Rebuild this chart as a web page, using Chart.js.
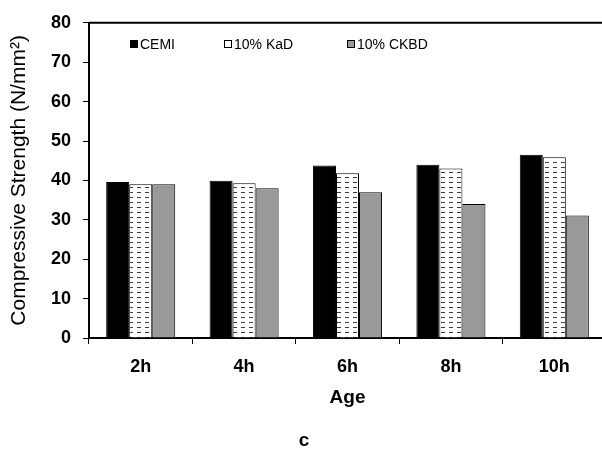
<!DOCTYPE html>
<html>
<head>
<meta charset="utf-8">
<script src="https://cdn.jsdelivr.net/npm/chart.js@4"></script>
<style>
  body { margin: 0; background: #fff; }
  #wrap { width: 602px; height: 450px; overflow: hidden; }
</style>
</head>
<body>
<div id="wrap"><canvas id="strengthChart" width="620" height="450"></canvas></div>
<script>
// Age of the mix at test
const ages = ['2h', '4h', '6h', '8h', '10h'];

// Compressive strength, N/mm²
const cemi = [39.6, 39.9, 43.8, 44.0, 46.5];
const kad = [39.0, 39.3, 41.8, 43.0, 45.9];
const ckbd = [39.0, 38.0, 37.0, 34.0, 31.1];

const yTicks = [0, 10, 20, 30, 40, 50, 60, 70, 80];

const fontFamily = "'Liberation Sans', Arial, sans-serif";

// white fill with small horizontal dashes
function dashPattern() {
    const tile = document.createElement('canvas');
    tile.width = 8;
    tile.height = 5;
    const c = tile.getContext('2d');
    c.fillStyle = '#fff';
    c.fillRect(0, 0, 8, 5);
    c.fillStyle = '#3a3a3a';
    c.fillRect(1, 2, 4, 1);
    return c.createPattern(tile, 'repeat');
}

const ctx = document.getElementById('strengthChart').getContext('2d');
const kadFill = dashPattern();

// frame on top of the plot + legend row + panel letter
const extras = {
    id: 'extras',
    afterDraw(chart) {
        const { ctx, chartArea } = chart;
        ctx.save();
        ctx.strokeStyle = '#000';
        ctx.lineWidth = 2;
        ctx.beginPath();
        ctx.moveTo(chartArea.left, chartArea.top);
        ctx.lineTo(chartArea.right, chartArea.top);
        ctx.stroke();

        const offsets = [41, 135, 258];
        const boxes = ['#000', '#fff', '#999999'];
        ctx.font = '14px ' + fontFamily;
        ctx.textBaseline = 'middle';
        ctx.lineWidth = 1;
        chart.data.datasets.forEach((ds, i) => {
            const x = chartArea.left + offsets[i];
            const y = 40;
            ctx.fillStyle = boxes[i];
            ctx.fillRect(x, y, 8, 8);
            ctx.strokeStyle = '#000';
            ctx.strokeRect(x + 0.5, y + 0.5, 7, 7);
            ctx.fillStyle = '#000';
            ctx.textAlign = 'left';
            ctx.fillText(ds.label, x + 10, y + 5);
        });

        ctx.font = 'bold 19px ' + fontFamily;
        ctx.textAlign = 'center';
        ctx.fillText('c', 304, 441);
        ctx.restore();
    }
};

new Chart(ctx, {
    type: 'bar',
    data: {
        labels: ages,
        datasets: [
            { label: 'CEMI', data: cemi, backgroundColor: '#000' },
            { label: '10% KaD', data: kad, backgroundColor: kadFill },
            { label: '10% CKBD', data: ckbd, backgroundColor: '#999999' }
        ]
    },
    options: {
        responsive: false,
        animation: false,
        layout: { padding: { top: 22, right: 14, bottom: 0, left: 0 } },
        datasets: {
            bar: {
                borderColor: '#000',
                borderWidth: 1,
                categoryPercentage: 0.668,
                barPercentage: 1
            }
        },
        scales: {
            x: {
                grid: { drawOnChartArea: false, drawTicks: true, tickLength: 6, color: '#000', offset: true },
                border: { color: '#000', width: 2 },
                ticks: { color: '#000', padding: 12, font: { family: fontFamily, size: 18, weight: 'bold' } },
                title: {
                    display: true,
                    text: 'Age',
                    color: '#000',
                    font: { family: fontFamily, size: 19, weight: 'bold' },
                    padding: { top: 0, bottom: 41 }
                },
                afterFit(scale) { scale.height = 112; }
            },
            y: {
                min: 0,
                max: 80,
                afterBuildTicks(scale) { scale.ticks = yTicks.map(v => ({ value: v })); },
                grid: { drawOnChartArea: false, drawTicks: true, tickLength: 6, color: '#000' },
                border: { color: '#000', width: 2 },
                ticks: { color: '#000', padding: 12, font: { family: fontFamily, size: 18, weight: 'bold' } },
                title: {
                    display: true,
                    text: 'Compressive Strength (N/mm²)',
                    color: '#000',
                    font: { family: fontFamily, size: 21 },
                    padding: { top: 7, bottom: 0 }
                },
                afterFit(scale) { scale.width = 89; }
            }
        },
        plugins: {
            legend: { display: false },
            tooltip: { enabled: false }
        }
    },
    plugins: [extras]
});
</script>
</body>
</html>
